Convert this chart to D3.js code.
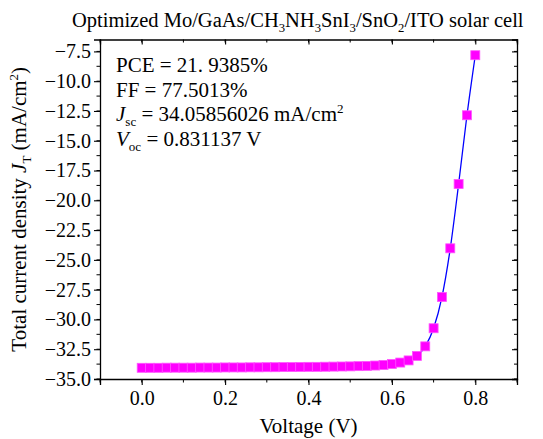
<!DOCTYPE html>
<html>
<head>
<meta charset="utf-8">
<script src="https://cdn.jsdelivr.net/npm/d3@7"></script>
<style>
  html, body { margin: 0; padding: 0; background: #fff; }
  svg { display: block; }
  svg text { font-family: "Liberation Serif", "Times New Roman", serif; fill: #000; }
</style>
</head>
<body>
<svg id="chart" width="543" height="439"></svg>
<script>
// J–V sweep of the optimized cell, 0 to 0.8 V in 0.02 V steps
const voltage = [
  0.00, 0.02, 0.04, 0.06, 0.08, 0.10, 0.12, 0.14, 0.16, 0.18,
  0.20, 0.22, 0.24, 0.26, 0.28, 0.30, 0.32, 0.34, 0.36, 0.38,
  0.40, 0.42, 0.44, 0.46, 0.48, 0.50, 0.52, 0.54, 0.56, 0.58,
  0.60, 0.62, 0.64, 0.66, 0.68, 0.70, 0.72, 0.74, 0.76, 0.78, 0.80
];
const currentDensity = [
  -34.06, -34.06, -34.06, -34.05, -34.05, -34.05, -34.05, -34.04, -34.04, -34.04,
  -34.03, -34.03, -34.03, -34.02, -34.02, -34.01, -34.01, -34.00, -34.00, -33.99,
  -33.98, -33.98, -33.97, -33.96, -33.95, -33.94, -33.92, -33.90, -33.87, -33.82,
  -33.74, -33.62, -33.44, -33.06, -32.26, -30.74, -28.12, -24.03, -18.63, -12.86, -7.82
];
const xTicks = [0.0, 0.2, 0.4, 0.6, 0.8];
const yTicks = [-35.0, -32.5, -30.0, -27.5, -25.0, -22.5, -20.0, -17.5, -15.0, -12.5, -10.0, -7.5];

// rich-text pieces: [text, style] with style "n" normal, "i" italic, "sub" subscript
const titleParts = [
  ["Optimized Mo/GaAs/CH", "n"], ["3", "sub"], ["NH", "n"], ["3", "sub"],
  ["SnI", "n"], ["3", "sub"], ["/SnO", "n"], ["2", "sub"], ["/ITO solar cell", "n"]
];
const summaryLines = [
  [["PCE = 21. 9385%", "n"]],
  [["FF = 77.5013%", "n"]],
  [["J", "i"], ["sc", "sub"], [" = 34.05856026 mA/cm", "n"], ["2", "sup"]],
  [["V", "i"], ["oc", "sub"], [" = 0.831137 V", "n"]]
];
const yTitleParts = [
  ["Total current density ", "n"], ["J", "i"], ["T", "sub"], [" (mA/cm", "n"], ["2", "sup"], [")", "n"]
];

const svg = d3.select("#chart");
const frame = { left: 100, right: 517, top: 39.5, bottom: 379 };

const x = d3.scaleLinear().domain([-0.1, 0.9]).range([frame.left, frame.right]);
const y = d3.scaleLinear().domain([-35, -6.5]).range([frame.bottom, frame.top]);

const points = voltage.map((v, i) => ({ v, j: currentDensity[i] }));

const fmt = d3.format(".1f");
const xMinor = d3.range(-0.1, 0.901, 0.1).map(d => +d.toFixed(2));
const yMinor = d3.range(-35, -6.49, 1.25).map(d => +d.toFixed(2));

// write rich text into a <text> element, shifting baseline for sub/superscripts
function richText(textSel, parts, size) {
  let shift = 0;
  parts.forEach(([t, kind]) => {
    const target = kind === "sub" ? size * 0.25 : kind === "sup" ? -size * 0.38 : 0;
    const ts = textSel.append("tspan").text(t).attr("dy", target - shift);
    shift = target;
    if (kind === "sub" || kind === "sup") ts.style("font-size", (size * 0.62) + "px");
    if (kind === "i") ts.style("font-style", "italic");
  });
}

// bottom axis: ticks outward
const gx = svg.append("g").attr("transform", `translate(0,${frame.bottom})`)
  .call(d3.axisBottom(x).tickValues(xTicks).tickFormat(fmt).tickSize(6).tickPadding(6));
gx.append("g").selectAll("line").data(xMinor).join("line")
  .attr("x1", d => x(d)).attr("x2", d => x(d)).attr("y1", 0).attr("y2", 3.5)
  .attr("stroke", "#000");

// left axis: ticks outward
const gy = svg.append("g").attr("transform", `translate(${frame.left},0)`)
  .call(d3.axisLeft(y).tickValues(yTicks).tickFormat(fmt).tickSize(6).tickPadding(3));
gy.append("g").selectAll("line").data(yMinor).join("line")
  .attr("y1", d => y(d)).attr("y2", d => y(d)).attr("x1", 0).attr("x2", -3.5)
  .attr("stroke", "#000");

// top and right mirror axes: ticks inward, no labels
const gt = svg.append("g").attr("transform", `translate(0,${frame.top})`)
  .call(d3.axisTop(x).tickValues(xTicks).tickFormat("").tickSize(-5));
gt.append("g").selectAll("line").data(xMinor).join("line")
  .attr("x1", d => x(d)).attr("x2", d => x(d)).attr("y1", 0).attr("y2", 3)
  .attr("stroke", "#000");
const gr = svg.append("g").attr("transform", `translate(${frame.right},0)`)
  .call(d3.axisRight(y).tickValues(yTicks).tickFormat("").tickSize(-5));
gr.append("g").selectAll("line").data(yMinor).join("line")
  .attr("y1", d => y(d)).attr("y2", d => y(d)).attr("x1", 0).attr("x2", -3)
  .attr("stroke", "#000");

[gx, gy, gt, gr].forEach(g => {
  g.attr("font-family", null).attr("font-size", null);
  g.select(".domain").attr("stroke", "#000").attr("stroke-width", 1.3);
  g.selectAll(".tick line").attr("stroke", "#000").attr("stroke-width", 1.1);
  g.selectAll(".tick text")
    .style("font-family", "'Liberation Serif', 'Times New Roman', serif")
    .style("font-size", "20px").attr("fill", "#000");
});

// fitted curve
const line = d3.line().x(d => x(d.v)).y(d => y(d.j)).curve(d3.curveMonotoneX);
svg.append("path").datum(points)
  .attr("d", line).attr("fill", "none").attr("stroke", "#0000ff").attr("stroke-width", 1.3);

// measured points
const s = 9;
svg.append("g").selectAll("rect").data(points).join("rect")
  .attr("x", d => x(d.v) - s / 2).attr("y", d => y(d.j) - s / 2)
  .attr("width", s).attr("height", s)
  .attr("fill", "#ff00ff").attr("stroke", "#ff55ff").attr("stroke-width", 0.8);

// title
richText(svg.append("text").attr("x", 72).attr("y", 27).style("font-size", "20.5px"), titleParts, 20.5);

// performance summary
summaryLines.forEach((parts, i) => {
  richText(svg.append("text").attr("x", 116).attr("y", 72 + i * 24.6).style("font-size", "21px"), parts, 21);
});

// axis titles
svg.append("text").attr("x", (frame.left + frame.right) / 2).attr("y", 433)
  .attr("text-anchor", "middle").style("font-size", "21px").text("Voltage (V)");

richText(
  svg.append("text")
    .attr("transform", `translate(26,${(frame.top + frame.bottom) / 2}) rotate(-90)`)
    .attr("text-anchor", "middle").style("font-size", "21px"),
  yTitleParts, 21);
</script>
</body>
</html>
